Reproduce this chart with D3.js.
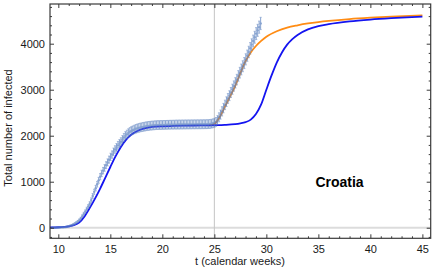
<!DOCTYPE html>
<html><head><meta charset="utf-8">
<script src="https://cdn.jsdelivr.net/npm/d3@7"></script>
<style>
body{margin:0;background:#fff;}
text{font-family:"Liberation Sans",Arial,sans-serif;}
</style>
</head><body>
<svg id="c" width="436" height="278"></svg>
<script>
// ---- data ----
const dataStart = 9.45;           // calendar week of first daily observation
const dataStepDays = 7;           // days per week
const dataValues = [0,1,3,5,6,7,9,10,12,17,25,35,45,56,70,90,110,135,165,200,250,300,350,405,460,520,600,690,780,860,945,1030,1110,1180,1240,1300,1360,1420,1480,1540,1590,1650,1700,1745,1790,1830,1870,1915,1960,2000,2030,2060,2085,2105,2120,2135,2150,2160,2170,2178,2185,2192,2198,2205,2210,2214,2218,2221,2224,2227,2230,2231,2232,2233,2234,2235,2236,2237,2238,2239,2240,2240,2241,2242,2242,2243,2243,2244,2244,2245,2245,2246,2246,2246,2247,2247,2247,2248,2248,2248,2249,2249,2250,2250,2251,2253,2256,2262,2270,2282,2300,2340,2400,2460,2530,2600,2670,2740,2810,2870,2940,3010,3080,3150,3220,3300,3370,3440,3510,3580,3660,3740,3820,3900,3980,4060,4140,4220,4290,4360,4440];
const dataErrors = [1,2,3,4,5,5,6,6,7,8,10,12,13,15,17,19,21,23,26,28,32,35,37,40,43,46,49,53,56,59,61,64,67,69,70,72,74,76,77,79,80,81,82,84,85,86,86,88,89,89,90,91,91,92,92,92,93,93,93,93,93,94,94,94,94,94,94,94,94,94,94,94,94,94,94,94,94,94,94,94,94,94,94,95,95,95,95,95,95,95,95,95,95,95,95,95,95,95,95,95,95,95,95,95,95,95,95,95,95,96,96,97,98,99,101,102,103,105,106,107,108,110,111,112,114,115,116,117,119,120,121,122,124,125,126,127,129,130,131,132,133];

const blueT = [9.2,10,10.5,11,11.5,12,12.5,13,13.5,14,14.5,15,15.5,16,16.5,17,17.5,18,18.5,19,20,21,22,23,24,25,26,27,27.5,28,28.5,29,29.5,30,30.5,31,31.5,32,32.5,33,34,35,36,38,40,42,45];
const blueV = [5,10,18,30,55,110,240,420,620,840,1080,1320,1550,1750,1910,2020,2090,2140,2170,2190,2205,2212,2218,2222,2225,2228,2234,2250,2268,2295,2350,2470,2680,3000,3310,3590,3810,3980,4100,4190,4310,4380,4425,4485,4525,4555,4590];

const orangeT = [24.5,25,25.5,26,26.5,27,27.5,28,28.5,29,29.5,30,31,32,33,34,35,36,38,40,42,45];
const orangeV = [2226,2255,2400,2625,2850,3080,3360,3620,3810,3950,4060,4150,4270,4350,4400,4440,4470,4495,4535,4565,4590,4617];

const xMajor = [10,15,20,25,30,35,40,45];
const yMajor = [0,1000,2000,3000,4000];
const markerWeek = 25;
const countryLabel = "Croatia";
const xTitle = "t (calendar weeks)";
const yTitle = "Total number of infected";

// ---- chart ----
const svg = d3.select("#c");
const L = 50, R = 430.7, T = 4, B = 238.3;
const x = d3.scaleLinear().domain([9.2, 45.8]).range([L, R]);
const y = d3.scaleLinear().domain([-230, 4863]).range([B, T]);

// reference lines
svg.append("line").attr("x1", L).attr("x2", R).attr("y1", y(0)).attr("y2", y(0))
  .attr("stroke", "#dcdcdc").attr("stroke-width", 2);
svg.append("line").attr("x1", x(markerWeek)).attr("x2", x(markerWeek)).attr("y1", T).attr("y2", B)
  .attr("stroke", "#c4c4c4").attr("stroke-width", 1);

const line = d3.line().x(d => x(d[0])).y(d => y(d[1])).curve(d3.curveMonotoneX);

// orange model
svg.append("path").datum(orangeT.map((t, i) => [t, orangeV[i]]))
  .attr("d", line).attr("fill", "none").attr("stroke", "#ff8c14").attr("stroke-width", 1.8);
// blue model
svg.append("path").datum(blueT.map((t, i) => [t, blueV[i]]))
  .attr("d", line).attr("fill", "none").attr("stroke", "#1414f0").attr("stroke-width", 1.8);

// data with error bars
const pts = dataValues.map((v, i) => ({t: dataStart + i / dataStepDays, v, e: dataErrors[i]}));
const g = svg.append("g").attr("stroke", "#5a80bf").attr("fill", "#5a80bf").attr("opacity", 0.72);
const eb = g.selectAll("g.eb").data(pts).join("g").attr("class", "eb");
eb.append("line").attr("x1", d => x(d.t)).attr("x2", d => x(d.t))
  .attr("y1", d => y(d.v - d.e)).attr("y2", d => y(d.v + d.e)).attr("stroke-width", 1);
eb.append("line").attr("x1", d => x(d.t) - 1.1).attr("x2", d => x(d.t) + 1.1)
  .attr("y1", d => y(d.v - d.e)).attr("y2", d => y(d.v - d.e)).attr("stroke-width", 0.7);
eb.append("line").attr("x1", d => x(d.t) - 1.1).attr("x2", d => x(d.t) + 1.1)
  .attr("y1", d => y(d.v + d.e)).attr("y2", d => y(d.v + d.e)).attr("stroke-width", 0.7);
eb.append("circle").attr("cx", d => x(d.t)).attr("cy", d => y(d.v)).attr("r", 1.2).attr("stroke", "none");

// axes (inward ticks, frame on all sides)
const frameColor = "#3a3a3a";
const yMinor = d3.range(-200, 4801, 200).filter(v => v % 1000 !== 0);
const xMinor = d3.range(10, 46, 1).filter(v => v % 5 !== 0);

function styleAxis(sel) {
  sel.select(".domain").remove();
  sel.selectAll("line").attr("stroke", frameColor).attr("stroke-width", 1);
  sel.selectAll("text").attr("fill", "#1a1a1a").style("font-size", "11px")
    .style("font-family", "'Liberation Sans', Arial, sans-serif");
}
svg.append("g").attr("transform", `translate(${L},0)`)
  .call(d3.axisLeft(y).tickValues(yMajor).tickSize(-4).tickPadding(5).tickFormat(d3.format("d"))).call(styleAxis);
svg.append("g").attr("transform", `translate(${L},0)`)
  .call(d3.axisLeft(y).tickValues(yMinor).tickSize(-2).tickFormat("")).call(styleAxis);
svg.append("g").attr("transform", `translate(${R},0)`)
  .call(d3.axisRight(y).tickValues(yMajor).tickSize(-4).tickFormat("")).call(styleAxis);
svg.append("g").attr("transform", `translate(${R},0)`)
  .call(d3.axisRight(y).tickValues(yMinor).tickSize(-2).tickFormat("")).call(styleAxis);
svg.append("g").attr("transform", `translate(0,${B})`)
  .call(d3.axisBottom(x).tickValues(xMajor).tickSize(-4).tickPadding(7).tickFormat(d3.format("d"))).call(styleAxis);
svg.append("g").attr("transform", `translate(0,${B})`)
  .call(d3.axisBottom(x).tickValues(xMinor).tickSize(-2).tickFormat("")).call(styleAxis);
svg.append("g").attr("transform", `translate(0,${T})`)
  .call(d3.axisTop(x).tickValues(xMajor).tickSize(-4).tickFormat("")).call(styleAxis);
svg.append("g").attr("transform", `translate(0,${T})`)
  .call(d3.axisTop(x).tickValues(xMinor).tickSize(-2).tickFormat("")).call(styleAxis);

svg.append("rect").attr("x", L).attr("y", T).attr("width", R - L).attr("height", B - T)
  .attr("fill", "none").attr("stroke", frameColor).attr("stroke-width", 1.2);

// titles
svg.append("text").attr("x", 240).attr("y", 265).attr("text-anchor", "middle")
  .attr("fill", "#1a1a1a").style("font-size", "11px").text(xTitle);
svg.append("text").attr("transform", "translate(12,128) rotate(-90)").attr("text-anchor", "middle")
  .attr("fill", "#1a1a1a").style("font-size", "11px").text(yTitle);
svg.append("text").attr("x", 339.5).attr("y", 187).attr("text-anchor", "middle")
  .attr("fill", "#000").style("font-size", "14px").style("font-weight", "bold").text(countryLabel);
</script>
</body></html>
